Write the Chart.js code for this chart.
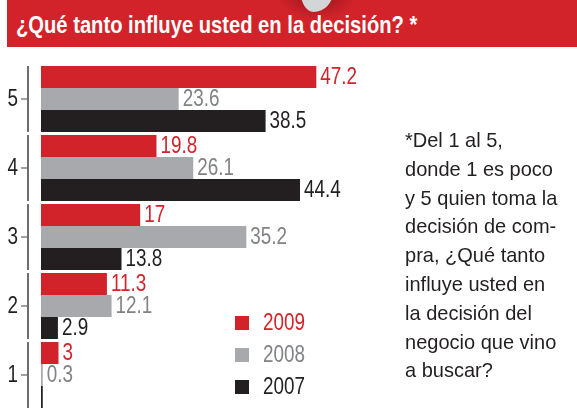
<!DOCTYPE html>
<html>
<head>
<meta charset="utf-8">
<script src="https://cdn.jsdelivr.net/npm/chart.js@4/dist/chart.umd.min.js"></script>
<style>
  html,body{margin:0;padding:0;background:#fff;}
  body{width:577px;height:408px;overflow:hidden;position:relative;font-family:"Liberation Sans",Arial,sans-serif;}
  #hdr{position:absolute;left:7px;top:0;width:570px;height:47px;background:#d2232a;overflow:hidden;}
  #shadow{position:absolute;left:270px;top:-30px;width:80px;height:50px;border-radius:50%;background:radial-gradient(ellipse at center, rgba(90,10,15,0.55) 0%, rgba(120,15,20,0.25) 45%, rgba(210,35,42,0) 70%);}
  #blob{position:absolute;left:293px;top:-14px;width:34px;height:26px;background:#d4d5d7;border-radius:10% 10% 60% 40% / 10% 10% 90% 90%;}
  #title{position:absolute;left:16px;top:10px;color:#fff;font-weight:bold;font-size:24px;line-height:30px;white-space:nowrap;transform-origin:0 0;}
  #note{position:absolute;left:405px;top:126px;color:#231f20;font-size:21px;line-height:28.8px;white-space:nowrap;transform-origin:0 0;}
  #c{position:absolute;left:0;top:0;}
</style>
</head>
<body>
<div id="hdr"><div id="shadow"></div><div id="blob"></div></div>
<div id="title">¿Qué tanto influye usted en la decisión? *</div>
<canvas id="c" width="577" height="412"></canvas>
<div id="note">*Del 1 al 5,<br><span id="l2">donde 1 es poco</span><br>y 5 quien toma la<br>decisión de com-<br>pra, ¿Qué tanto<br>influye usted en<br>la decisión del<br>negocio que vino<br>a buscar?</div>
<script>
const categories = ['5', '4', '3', '2', '1'];
const seriesNames = ['2009', '2008', '2007'];
const values2009 = [47.2, 19.8, 17, 11.3, 3];
const values2008 = [23.6, 26.1, 35.2, 12.1, 0.3];
const values2007 = [38.5, 44.4, 13.8, 2.9, 0.3];

const barColors = ['#d2232a', '#a7a9ac', '#231f20'];
const textColors = ['#d2232a', '#808285', '#231f20'];
const FONT = '"Liberation Sans",Arial,sans-serif';
const SX = 0.82; // condensed look

// condense HTML text to the reference widths
(function fit() {
  const t = document.getElementById('title');
  t.style.transform = 'scaleX(' + (401 / t.scrollWidth) + ')';
  const l2 = document.getElementById('l2');
  const s = 148 / l2.getBoundingClientRect().width;
  document.getElementById('note').style.transform = 'scaleX(' + s + ')';
})();

function condText(ctx, txt, x, y, align) {
  ctx.save();
  ctx.translate(x, y);
  ctx.scale(SX, 1);
  ctx.textAlign = align;
  ctx.fillText(txt, 0, 0);
  ctx.restore();
}

const deco = {
  id: 'deco',
  afterDatasetsDraw(chart) {
    const ctx = chart.ctx;
    const y = chart.scales.y;
    ctx.save();
    ctx.textBaseline = 'middle';
    categories.forEach((lab, i) => {
      const c = y.getPixelForValue(i);
      const half = (y.getPixelForValue(1) - y.getPixelForValue(0)) / 2;
      const top = c - half * 0.957, bot = c + half * 0.957;
      ctx.strokeStyle = '#6d6e71';
      ctx.lineWidth = 2;
      ctx.beginPath(); ctx.moveTo(28, top); ctx.lineTo(28, bot); ctx.stroke();
      ctx.lineWidth = 1.3;
      ctx.beginPath(); ctx.moveTo(21, c); ctx.lineTo(28, c); ctx.stroke();
      ctx.fillStyle = '#231f20';
      ctx.font = '23px ' + FONT;
      condText(ctx, lab, 18, c + 1, 'right');
    });
    ctx.font = '23px ' + FONT;
    chart.data.datasets.forEach((ds, di) => {
      const meta = chart.getDatasetMeta(di);
      meta.data.forEach((bar, j) => {
        if (bar.y + bar.height / 2 > 408) return; // label falls outside the page
        ctx.fillStyle = textColors[di];
        condText(ctx, String(ds.data[j]), bar.x + 4, bar.y + 1, 'left');
      });
    });
    const lx = 235, ly0 = 323, step = 32;
    chart.data.datasets.forEach((ds, di) => {
      const cy = ly0 + di * step;
      ctx.fillStyle = barColors[di];
      ctx.fillRect(lx, cy - 7, 14, 14);
      ctx.fillStyle = textColors[di];
      ctx.font = '23px ' + FONT;
      condText(ctx, ds.label, lx + 28, cy + 1, 'left');
    });
    ctx.restore();
  }
};

new Chart(document.getElementById('c'), {
  type: 'bar',
  data: {
    labels: categories,
    datasets: [
      { label: seriesNames[0], data: values2009, backgroundColor: barColors[0] },
      { label: seriesNames[1], data: values2008, backgroundColor: barColors[1] },
      { label: seriesNames[2], data: values2007, backgroundColor: barColors[2] }
    ]
  },
  options: {
    indexAxis: 'y',
    responsive: false,
    animation: false,
    devicePixelRatio: 1,
    layout: { padding: { left: 41, top: 64.5, right: 186, bottom: 2.5 } },
    datasets: { bar: { categoryPercentage: 0.957, barPercentage: 1, borderWidth: 0 } },
    scales: {
      x: { display: false, min: 0, max: 60 },
      y: { display: false }
    },
    plugins: { legend: { display: false }, tooltip: { enabled: false } }
  },
  plugins: [deco]
});
</script>
</body>
</html>
